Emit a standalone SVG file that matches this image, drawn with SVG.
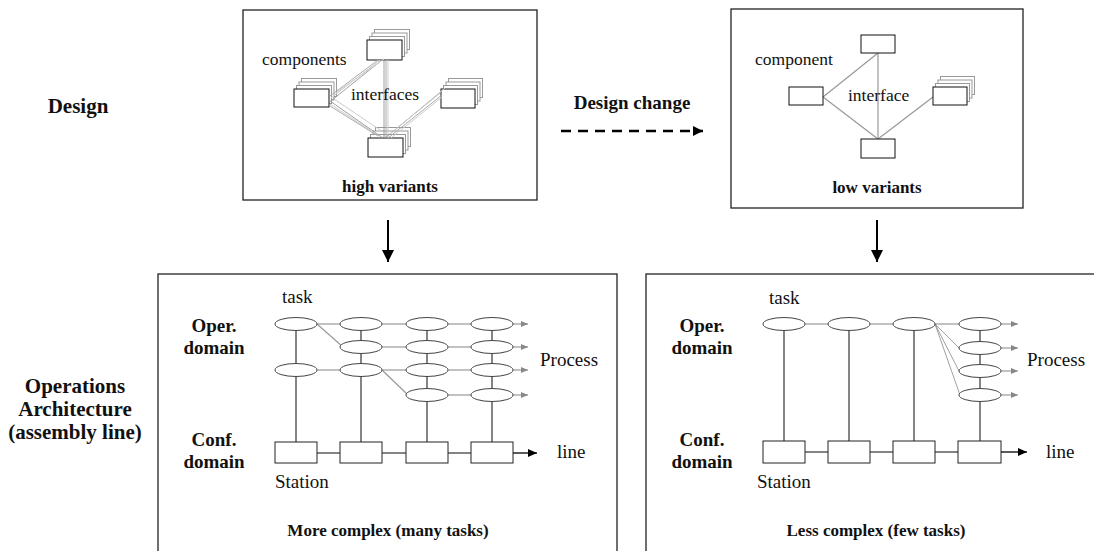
<svg xmlns="http://www.w3.org/2000/svg" width="1094" height="551" viewBox="0 0 1094 551">
  <defs>
    <style>
      .frame { fill: #fff; stroke: #222; stroke-width: 1.3; }
      .box { fill: #fff; stroke: #111; stroke-width: 1; }
      .back { fill: #fff; stroke: #999; stroke-width: 1; }
      .task { fill: #fff; stroke: #444; stroke-width: 1; }
      .st { fill: #fff; stroke: #222; stroke-width: 1; }
      .g1 { stroke: #aaa; stroke-width: 1; fill: none; }
      .g2 { stroke: #ccc; stroke-width: 1; fill: none; }
      .g3 { stroke: #888; stroke-width: 0.8; fill: none; }
      .gl { stroke: #999; stroke-width: 1.2; fill: none; }
      .dk { stroke: #333; stroke-width: 1.2; fill: none; }
      .blk { stroke: #000; stroke-width: 1.3; fill: none; }
      .t { font-family: "Liberation Serif", "Times New Roman", serif; fill: #111; }
      .reg17 { font-size: 17.5px; }
      .reg19 { font-size: 19px; }
      .b21 { font-size: 21px; font-weight: bold; }
      .b19 { font-size: 19px; font-weight: bold; }
      .b17 { font-size: 17px; font-weight: bold; }
    </style>
    <marker id="ga" markerWidth="8" markerHeight="8" refX="7" refY="4" orient="auto" markerUnits="userSpaceOnUse">
      <path d="M0,1 L7,4 L0,7 Z" fill="#888"/>
    </marker>
    <marker id="ba" markerWidth="10" markerHeight="10" refX="9" refY="5" orient="auto" markerUnits="userSpaceOnUse">
      <path d="M0,1 L9,5 L0,9 Z" fill="#000"/>
    </marker>
    <marker id="big" markerWidth="14" markerHeight="14" refX="12" refY="6" orient="auto" markerUnits="userSpaceOnUse">
      <path d="M0,0 L12,6 L0,12 Z" fill="#000"/>
    </marker>
    <marker id="dsh" markerWidth="12" markerHeight="12" refX="10" refY="5" orient="auto" markerUnits="userSpaceOnUse">
      <path d="M0,0 L10,5 L0,10 Z" fill="#000"/>
    </marker>
  </defs>

  <rect width="1094" height="551" fill="#fff"/>

  <!-- side labels -->
  <g id="label-design">
    <text class="t b21" x="78" y="113" text-anchor="middle">Design</text>
  </g>
  <g id="label-operations">
    <text class="t b21" x="75" y="393" text-anchor="middle">Operations</text>
    <text class="t b21" x="75" y="416" text-anchor="middle">Architecture</text>
    <text class="t b21" x="75" y="439" text-anchor="middle">(assembly line)</text>
  </g>

  <!-- high-variant design -->
  <g id="design-high">
    <rect class="frame" x="243" y="10" width="294" height="190"/>
    <!-- stacked component boxes -->
    <g id="stack-top">
      <rect class="back" x="374.5" y="29.5" width="35" height="20"/>
      <rect class="back" x="372" y="33" width="35" height="20"/>
      <rect class="back" x="369.5" y="36.5" width="35" height="20"/>
      <rect class="box" x="367" y="40" width="35" height="20"/>
    </g>
    <g id="stack-left">
      <rect class="back" x="301.5" y="78.5" width="35" height="18"/>
      <rect class="back" x="299" y="82" width="35" height="18"/>
      <rect class="back" x="296.5" y="85.5" width="35" height="18"/>
      <rect class="box" x="294" y="89" width="35" height="18"/>
    </g>
    <g id="stack-right">
      <rect class="back" x="448.5" y="78.5" width="34" height="19"/>
      <rect class="back" x="446" y="82" width="34" height="19"/>
      <rect class="back" x="443.5" y="85.5" width="34" height="19"/>
      <rect class="box" x="441" y="89" width="34" height="19"/>
    </g>
    <g id="stack-bottom">
      <rect class="back" x="375.5" y="127.5" width="35" height="19"/>
      <rect class="back" x="373" y="131" width="35" height="19"/>
      <rect class="back" x="370.5" y="134.5" width="35" height="19"/>
      <rect class="box" x="368" y="138" width="35" height="19"/>
    </g>
    <!-- interface bundles -->
    <g id="interfaces-high">
      <line class="g1" x1="378" y1="60" x2="330" y2="96"/>
      <line class="g2" x1="380" y1="60" x2="331" y2="98"/>
      <line class="g3" x1="382" y1="60" x2="332" y2="100"/>
      <line class="g2" x1="384" y1="59" x2="334" y2="94"/>
      <line class="g3" x1="384" y1="60" x2="384" y2="138"/>
      <line class="g1" x1="386" y1="60" x2="386" y2="138"/>
      <line class="g2" x1="388" y1="60" x2="388" y2="138"/>
      <line class="g3" x1="330" y1="101" x2="383" y2="138"/>
      <line class="g2" x1="330" y1="104" x2="381" y2="137"/>
      <line class="g1" x1="330" y1="106" x2="378" y2="136"/>
      <line class="g2" x1="334" y1="99" x2="386" y2="134"/>
      <line class="g3" x1="441" y1="92" x2="385" y2="138"/>
      <line class="g1" x1="442" y1="95" x2="388" y2="138"/>
      <line class="g2" x1="442" y1="97" x2="391" y2="138"/>
      <line class="g2" x1="445" y1="88" x2="390" y2="134"/>
    </g>
    <text class="t reg17" x="262" y="65">components</text>
    <text class="t reg17" x="351" y="100">interfaces</text>
    <text class="t b17" x="390" y="192" text-anchor="middle">high variants</text>
  </g>

  <!-- design change label -->
  <g id="design-change">
    <text class="t b19" x="632" y="109" text-anchor="middle">Design change</text>
  </g>

  <!-- low-variant design -->
  <g id="design-low">
    <rect class="frame" x="731" y="9" width="292" height="199"/>
    <g id="interfaces-low">
      <line class="gl" x1="823" y1="97" x2="878" y2="53"/>
      <line class="gl" x1="878" y1="53" x2="878" y2="139"/>
      <line class="gl" x1="823" y1="97" x2="878" y2="139"/>
      <line class="gl" x1="878" y1="139" x2="933" y2="97"/>
    </g>
    <rect class="box" x="861" y="35" width="34" height="18"/>
    <rect class="box" x="789" y="87" width="34" height="18"/>
    <rect class="box" x="861" y="139" width="34" height="19"/>
    <g id="stack-low">
      <rect class="back" x="940.5" y="76.5" width="34" height="18"/>
      <rect class="back" x="938" y="80" width="34" height="18"/>
      <rect class="back" x="935.5" y="83.5" width="34" height="18"/>
      <rect class="box" x="933" y="87" width="34" height="18"/>
    </g>
    <text class="t reg17" x="755" y="65">component</text>
    <text class="t reg17" x="848" y="101">interface</text>
    <text class="t b17" x="877" y="193" text-anchor="middle">low variants</text>
  </g>

  <!-- operations: many tasks -->
  <g id="ops-many">
    <rect class="frame" x="158" y="274" width="459" height="290"/>
    <text class="t b19" x="214" y="332" text-anchor="middle">Oper.</text>
    <text class="t b19" x="214" y="354" text-anchor="middle">domain</text>
    <text class="t b19" x="214" y="446" text-anchor="middle">Conf.</text>
    <text class="t b19" x="214" y="468" text-anchor="middle">domain</text>
    <g id="process-many">
      <!-- precedence links -->
      <line class="gl" x1="317" y1="324" x2="340" y2="324"/>
      <line class="gl" x1="382" y1="324" x2="406" y2="324"/>
      <line class="gl" x1="448" y1="324" x2="471" y2="324"/>
      <line class="gl" x1="382" y1="347" x2="406" y2="347"/>
      <line class="gl" x1="448" y1="347" x2="471" y2="347"/>
      <line class="gl" x1="317" y1="370" x2="340" y2="370"/>
      <line class="gl" x1="382" y1="370" x2="406" y2="370"/>
      <line class="gl" x1="448" y1="370" x2="471" y2="370"/>
      <line class="gl" x1="448" y1="395" x2="471" y2="395"/>
      <line class="gl" x1="317" y1="324" x2="343" y2="347"/>
      <line class="gl" x1="382" y1="370" x2="408" y2="395"/>
      <line class="gl" x1="513" y1="324" x2="528" y2="324" marker-end="url(#ga)"/>
      <line class="gl" x1="513" y1="347" x2="528" y2="347" marker-end="url(#ga)"/>
      <line class="gl" x1="513" y1="370" x2="528" y2="370" marker-end="url(#ga)"/>
      <line class="gl" x1="513" y1="395" x2="528" y2="395" marker-end="url(#ga)"/>
      <!-- task to station assignment -->
      <line class="dk" x1="296" y1="324" x2="296" y2="442"/>
      <line class="dk" x1="361" y1="324" x2="361" y2="442"/>
      <line class="dk" x1="427" y1="324" x2="427" y2="442"/>
      <line class="dk" x1="492" y1="324" x2="492" y2="442"/>
      <ellipse class="task" cx="296" cy="324" rx="21" ry="6.5"/>
      <ellipse class="task" cx="296" cy="370" rx="21" ry="6.5"/>
      <ellipse class="task" cx="361" cy="324" rx="21" ry="6.5"/>
      <ellipse class="task" cx="361" cy="347" rx="21" ry="6.5"/>
      <ellipse class="task" cx="361" cy="370" rx="21" ry="6.5"/>
      <ellipse class="task" cx="427" cy="324" rx="21" ry="6.5"/>
      <ellipse class="task" cx="427" cy="347" rx="21" ry="6.5"/>
      <ellipse class="task" cx="427" cy="370" rx="21" ry="6.5"/>
      <ellipse class="task" cx="427" cy="395" rx="21" ry="6.5"/>
      <ellipse class="task" cx="492" cy="324" rx="21" ry="6.5"/>
      <ellipse class="task" cx="492" cy="347" rx="21" ry="6.5"/>
      <ellipse class="task" cx="492" cy="370" rx="21" ry="6.5"/>
      <ellipse class="task" cx="492" cy="395" rx="21" ry="6.5"/>
    </g>
    <g id="line-many">
      <line class="dk" x1="317" y1="453" x2="340" y2="453"/>
      <line class="dk" x1="382" y1="453" x2="406" y2="453"/>
      <line class="dk" x1="448" y1="453" x2="471" y2="453"/>
      <line class="blk" x1="513" y1="453" x2="537" y2="453" marker-end="url(#ba)"/>
      <rect class="st" x="275" y="442" width="42" height="21"/>
      <rect class="st" x="340" y="442" width="42" height="21"/>
      <rect class="st" x="406" y="442" width="42" height="21"/>
      <rect class="st" x="471" y="442" width="42" height="21"/>
    </g>
    <text class="t reg19" x="282" y="303">task</text>
    <text class="t reg19" x="540" y="366">Process</text>
    <text class="t reg19" x="557" y="458">line</text>
    <text class="t reg19" x="275" y="488">Station</text>
    <text class="t b17" x="388" y="536" text-anchor="middle">More complex (many tasks)</text>
  </g>

  <!-- operations: few tasks -->
  <g id="ops-few">
    <rect class="frame" x="646" y="274" width="460" height="290"/>
    <text class="t b19" x="702" y="332" text-anchor="middle">Oper.</text>
    <text class="t b19" x="702" y="354" text-anchor="middle">domain</text>
    <text class="t b19" x="702" y="446" text-anchor="middle">Conf.</text>
    <text class="t b19" x="702" y="468" text-anchor="middle">domain</text>
    <g id="process-few">
      <line class="gl" x1="805" y1="324" x2="828" y2="324"/>
      <line class="gl" x1="870" y1="324" x2="893" y2="324"/>
      <line class="gl" x1="935" y1="324" x2="959" y2="324"/>
      <line class="g3" x1="935" y1="324" x2="959" y2="348"/>
      <line class="g3" x1="935" y1="324" x2="959" y2="371"/>
      <line class="g3" x1="935" y1="324" x2="960" y2="395"/>
      <line class="gl" x1="1001" y1="324" x2="1018" y2="324" marker-end="url(#ga)"/>
      <line class="gl" x1="1001" y1="348" x2="1018" y2="348" marker-end="url(#ga)"/>
      <line class="gl" x1="1001" y1="371" x2="1018" y2="371" marker-end="url(#ga)"/>
      <line class="gl" x1="1001" y1="395" x2="1018" y2="395" marker-end="url(#ga)"/>
      <line class="dk" x1="784" y1="324" x2="784" y2="441"/>
      <line class="dk" x1="849" y1="324" x2="849" y2="441"/>
      <line class="dk" x1="914" y1="324" x2="914" y2="441"/>
      <line class="dk" x1="980" y1="324" x2="980" y2="441"/>
      <ellipse class="task" cx="784" cy="324" rx="21" ry="6.5"/>
      <ellipse class="task" cx="849" cy="324" rx="21" ry="6.5"/>
      <ellipse class="task" cx="914" cy="324" rx="21" ry="6.5"/>
      <ellipse class="task" cx="980" cy="324" rx="21" ry="6.5"/>
      <ellipse class="task" cx="980" cy="348" rx="21" ry="6.5"/>
      <ellipse class="task" cx="980" cy="371" rx="21" ry="6.5"/>
      <ellipse class="task" cx="980" cy="395" rx="21" ry="6.5"/>
    </g>
    <g id="line-few">
      <line class="dk" x1="805" y1="452" x2="828" y2="452"/>
      <line class="dk" x1="870" y1="452" x2="893" y2="452"/>
      <line class="dk" x1="935" y1="452" x2="958" y2="452"/>
      <line class="blk" x1="1001" y1="452" x2="1027" y2="452" marker-end="url(#ba)"/>
      <rect class="st" x="763" y="441" width="42" height="22"/>
      <rect class="st" x="828" y="441" width="42" height="22"/>
      <rect class="st" x="893" y="441" width="42" height="22"/>
      <rect class="st" x="958" y="441" width="43" height="22"/>
    </g>
    <text class="t reg19" x="769" y="304">task</text>
    <text class="t reg19" x="1027" y="366">Process</text>
    <text class="t reg19" x="1046" y="458">line</text>
    <text class="t reg19" x="757" y="488">Station</text>
    <text class="t b17" x="876" y="536" text-anchor="middle">Less complex (few tasks)</text>
  </g>

  <!-- connectors between panels -->
  <g id="connectors">
    <line x1="561" y1="131" x2="703" y2="131" stroke="#000" stroke-width="2.5" stroke-dasharray="10,7" marker-end="url(#dsh)"/>
    <line x1="388" y1="220" x2="388" y2="262" stroke="#000" stroke-width="2" marker-end="url(#big)"/>
    <line x1="877" y1="220" x2="877" y2="262" stroke="#000" stroke-width="2" marker-end="url(#big)"/>
  </g>
</svg>
